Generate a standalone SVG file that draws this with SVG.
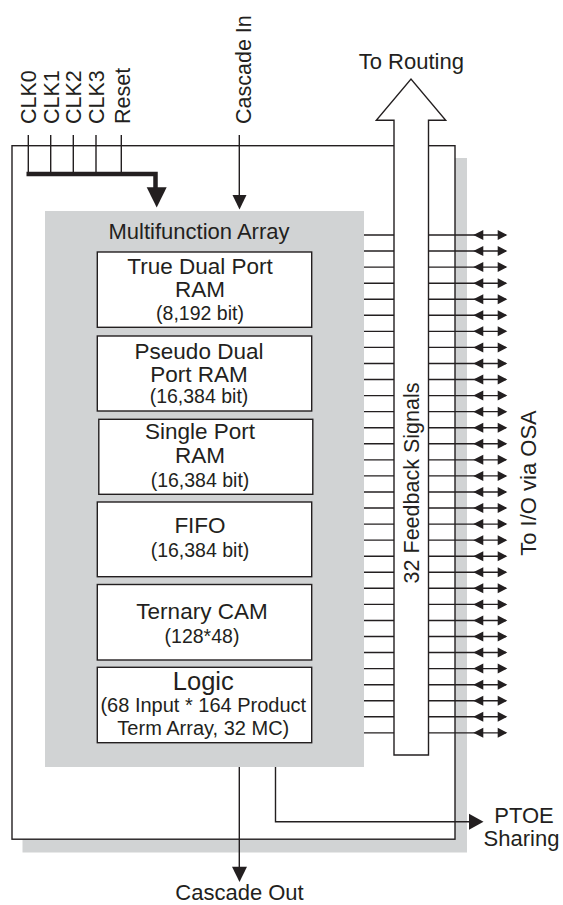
<svg xmlns="http://www.w3.org/2000/svg" xmlns:xlink="http://www.w3.org/1999/xlink" width="563" height="905" viewBox="0 0 563 905">
<style>
text{font-family:"Liberation Sans",Arial,Helvetica,sans-serif;fill:#231f20}
.t{font-size:22px}
.m{font-size:22.5px;text-anchor:middle}
.s{font-size:19.5px;text-anchor:middle}
.c{font-size:21.5px}
.ln{stroke:#231f20;stroke-width:1.4;fill:none}
.box{fill:#fff;stroke:#231f20;stroke-width:1.4}
.hd{fill:#231f20;stroke:none}
</style>
<defs>
<g id="sig">
<path class="ln" d="M364,0H506"/>
<path class="hd" d="M473.3,0L483.3,-5V5Z M507.3,0L497.7,-5V5Z"/>
</g>
</defs>
<rect x="0" y="0" width="563" height="905" fill="#fff"/>
<g id="block">
<rect x="22.5" y="158" width="444.5" height="694.5" fill="#d1d3d4"/>
<rect class="box" x="12" y="145.7" width="443" height="693.5"/>
</g>
<g id="multifunction-array">
<rect x="45" y="211" width="319" height="556" fill="#d1d3d4"/>
<text class="t" x="199" y="238.5" text-anchor="middle">Multifunction Array</text>
</g>
<g id="true-dual-port-ram">
<rect class="box" x="97.3" y="252" width="214.4" height="75.3"/>
<text class="m" x="200" y="274.3">True Dual Port</text>
<text class="m" x="200" y="297.3">RAM</text>
<text class="s" x="200" y="319.5">(8,192 bit)</text>
</g>
<g id="pseudo-dual-port-ram">
<rect class="box" x="97.3" y="336" width="214.4" height="75"/>
<text class="m" x="199" y="359">Pseudo Dual</text>
<text class="m" x="199" y="381.7">Port RAM</text>
<text class="s" x="199" y="403.3">(16,384 bit)</text>
</g>
<g id="single-port-ram">
<rect class="box" x="98.8" y="419.3" width="214" height="75"/>
<text class="m" x="200" y="439.3">Single Port</text>
<text class="m" x="200" y="463.3">RAM</text>
<text class="s" x="200" y="486.7">(16,384 bit)</text>
</g>
<g id="fifo">
<rect class="box" x="97.3" y="502" width="214.4" height="74.7"/>
<text class="m" x="200" y="533.3">FIFO</text>
<text class="s" x="200" y="556.7">(16,384 bit)</text>
</g>
<g id="ternary-cam">
<rect class="box" x="97.3" y="584.5" width="214.4" height="75.5"/>
<text class="m" x="202" y="619.3">Ternary CAM</text>
<text class="s" x="202" y="643.3">(128*48)</text>
</g>
<g id="logic">
<rect class="box" x="97.3" y="667.3" width="214.4" height="75.4"/>
<text x="203.3" y="690" font-size="25.5" text-anchor="middle">Logic</text>
<text x="203.3" y="711.7" font-size="20" text-anchor="middle">(68 Input * 164 Product</text>
<text x="203.3" y="735" font-size="20" text-anchor="middle">Term Array, 32 MC)</text>
</g>
<g id="connectors">
<path class="ln" d="M28.3,135V173 M50.7,135V173 M73.3,135V173 M96,135V173 M121.3,135V173"/>
<path d="M26.5,174H155.5V189" fill="none" stroke="#231f20" stroke-width="4.5"/>
<path class="hd" d="M146.7,187.3H166.7L156.7,207.5Z"/>
<path class="ln" d="M239.3,135V196"/>
<path class="hd" d="M232.5,195H246.5L239.5,209.5Z"/>
<path class="ln" d="M239.3,767V868"/>
<path class="hd" d="M232,866.7H247L239.5,882Z"/>
<path class="ln" d="M275.5,767V821.7H470"/>
<path class="hd" d="M469,813.7V829.7L483.5,821.7Z"/>
<use xlink:href="#sig" y="235"/>
<use xlink:href="#sig" y="251.06"/>
<use xlink:href="#sig" y="267.12"/>
<use xlink:href="#sig" y="283.18"/>
<use xlink:href="#sig" y="299.24"/>
<use xlink:href="#sig" y="315.3"/>
<use xlink:href="#sig" y="331.36"/>
<use xlink:href="#sig" y="347.42"/>
<use xlink:href="#sig" y="363.48"/>
<use xlink:href="#sig" y="379.54"/>
<use xlink:href="#sig" y="395.6"/>
<use xlink:href="#sig" y="411.66"/>
<use xlink:href="#sig" y="427.72"/>
<use xlink:href="#sig" y="443.78"/>
<use xlink:href="#sig" y="459.84"/>
<use xlink:href="#sig" y="475.9"/>
<use xlink:href="#sig" y="491.96"/>
<use xlink:href="#sig" y="508.02"/>
<use xlink:href="#sig" y="524.08"/>
<use xlink:href="#sig" y="540.14"/>
<use xlink:href="#sig" y="556.2"/>
<use xlink:href="#sig" y="572.26"/>
<use xlink:href="#sig" y="588.32"/>
<use xlink:href="#sig" y="604.38"/>
<use xlink:href="#sig" y="620.44"/>
<use xlink:href="#sig" y="636.5"/>
<use xlink:href="#sig" y="652.56"/>
<use xlink:href="#sig" y="668.62"/>
<use xlink:href="#sig" y="684.68"/>
<use xlink:href="#sig" y="700.74"/>
<use xlink:href="#sig" y="716.8"/>
<use xlink:href="#sig" y="732.86"/>
</g>
<g id="feedback-bus">
<path class="box" d="M394,755V120.3H376.3L411,79L445.7,120.3H428.5V755Z"/>
<text class="c" transform="translate(419.3,483) rotate(-90)" text-anchor="middle">32 Feedback Signals</text>
</g>
<g id="labels">
<text class="t" x="411.3" y="69.3" text-anchor="middle">To Routing</text>
<text class="c" transform="translate(36,124) rotate(-90)">CLK0</text>
<text class="c" transform="translate(58.5,124) rotate(-90)">CLK1</text>
<text class="c" transform="translate(81,124) rotate(-90)">CLK2</text>
<text class="c" transform="translate(104,124) rotate(-90)">CLK3</text>
<text class="c" transform="translate(130,124) rotate(-90)">Reset</text>
<text class="c" transform="translate(251,124) rotate(-90)">Cascade In</text>
<text class="t" transform="translate(536,483) rotate(-90)" text-anchor="middle">To I/O via OSA</text>
<text class="t" x="524" y="823" text-anchor="middle">PTOE</text>
<text class="t" x="521.5" y="846" text-anchor="middle">Sharing</text>
<text class="t" x="239.5" y="899.5" text-anchor="middle">Cascade Out</text>
</g>
</svg>
